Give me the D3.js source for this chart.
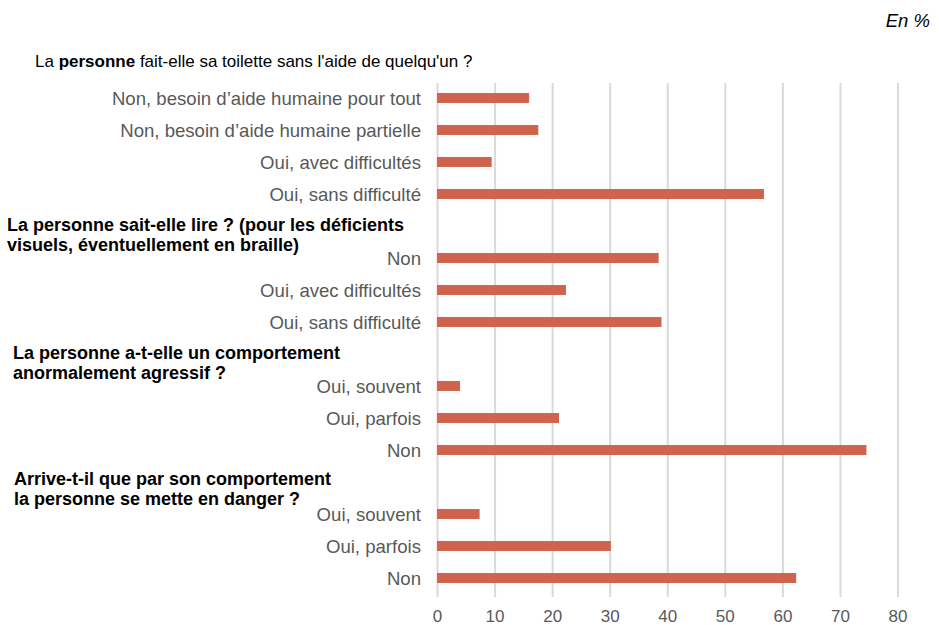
<!DOCTYPE html>
<html>
<head>
<meta charset="utf-8">
<script src="https://cdn.jsdelivr.net/npm/d3@7"></script>
<style>
  body { margin: 0; background: #fff; }
  svg { font-family: "Liberation Sans", Arial, sans-serif; }
</style>
</head>
<body>
<div id="chart"></div>
<script>
var canvasWidth = 939;
var canvasHeight = 625;

/*Data: one array of labels and one of values per question*/
var toiletteLabels = ["Non, besoin d\u2019aide humaine pour tout", "Non, besoin d\u2019aide humaine partielle", "Oui, avec difficultés", "Oui, sans difficulté"];
var toiletteValues = [16.0, 17.6, 9.5, 56.8];

var lireLabels = ["Non", "Oui, avec difficultés", "Oui, sans difficulté"];
var lireValues = [38.5, 22.4, 39.0];

var agressifLabels = ["Oui, souvent", "Oui, parfois", "Non"];
var agressifValues = [4.0, 21.2, 74.6];

var dangerLabels = ["Oui, souvent", "Oui, parfois", "Non"];
var dangerValues = [7.4, 30.2, 62.4];

var xTicks = [0, 10, 20, 30, 40, 50, 60, 70, 80];

/*Build rows: a blank slot separates each question*/
var groups = [
    {labels: toiletteLabels, values: toiletteValues},
    {labels: lireLabels, values: lireValues},
    {labels: agressifLabels, values: agressifValues},
    {labels: dangerLabels, values: dangerValues}
];
var rows = [];
groups.forEach(function (g, gi) {
    if (gi > 0) rows.push({key: "gap" + gi, label: "", value: null});
    g.labels.forEach(function (l, i) {
        rows.push({key: gi + "-" + i, label: l, value: g.values[i]});
    });
});

var svg = d3.select("#chart").append("svg")
    .attr("width", canvasWidth)
    .attr("height", canvasHeight);

var plotLeft = 437, plotRight = 897.5, plotTop = 82, plotBottom = 594;
var gridTop = 83, gridBottom = 597;

var xScale = d3.scaleLinear().domain([0, 80]).range([plotLeft, plotRight]);
var yScale = d3.scaleBand().domain(rows.map(function (d) { return d.key; }))
    .range([plotTop, plotBottom]).paddingInner(0.69).paddingOuter(0.345);

/*Vertical gridlines*/
svg.append("g")
    .attr("transform", "translate(0," + gridBottom + ")")
    .call(d3.axisBottom(xScale).tickValues(xTicks).tickSize(-(gridBottom - gridTop)).tickFormat(""))
    .call(function (g) { g.select(".domain").remove(); })
    .selectAll("line")
    .attr("stroke", "#d9d9d9")
    .attr("stroke-width", 2);

/*X axis labels*/
svg.append("g")
    .attr("transform", "translate(0," + 610 + ")")
    .call(d3.axisBottom(xScale).tickValues(xTicks).tickSize(0).tickPadding(0))
    .call(function (g) { g.select(".domain").remove(); })
    .selectAll("text")
    .attr("font-size", 17)
    .attr("font-family", "Liberation Sans, Arial, sans-serif")
    .attr("fill", "#595959");

/*Bars*/
svg.selectAll(".bar")
    .data(rows.filter(function (d) { return d.value !== null; }))
    .join("rect")
    .attr("class", "bar")
    .attr("x", xScale(0))
    .attr("y", function (d) { return yScale(d.key); })
    .attr("width", function (d) { return xScale(d.value) - xScale(0); })
    .attr("height", yScale.bandwidth())
    .attr("fill", "#d0634b");

/*Category labels*/
svg.selectAll(".cat")
    .data(rows.filter(function (d) { return d.label !== ""; }))
    .join("text")
    .attr("class", "cat")
    .attr("x", 421)
    .attr("y", function (d) { return yScale(d.key) + yScale.bandwidth() / 2; })
    .attr("dy", "0.35em")
    .attr("text-anchor", "end")
    .attr("font-size", 18.6)
    .attr("fill", "#595959")
    .text(function (d) { return d.label; });

/*Question headings*/
var h1 = svg.append("text")
    .attr("x", 35).attr("y", 67)
    .attr("font-size", 17)
    .attr("fill", "#000");
h1.append("tspan").text("La ");
h1.append("tspan").attr("font-weight", "bold").text("personne");
h1.append("tspan").text(" fait-elle sa toilette sans l'aide de quelqu'un ?");

var headings = [
    {x: 7, y: 231, lines: ["La personne sait-elle lire ? (pour les déficients", "visuels, éventuellement en braille)"]},
    {x: 13, y: 359, lines: ["La personne a-t-elle un comportement", "anormalement agressif ?"]},
    {x: 14, y: 485, lines: ["Arrive-t-il que par son comportement", "la personne se mette en danger ?"]}
];
headings.forEach(function (h) {
    var t = svg.append("text")
        .attr("x", h.x).attr("y", h.y)
        .attr("font-size", 18)
        .attr("font-weight", "bold")
        .attr("fill", "#000");
    h.lines.forEach(function (l, i) {
        t.append("tspan").attr("x", h.x).attr("dy", i === 0 ? 0 : 20).text(l);
    });
});

/*Unit*/
svg.append("text")
    .attr("x", 930).attr("y", 27)
    .attr("text-anchor", "end")
    .attr("font-size", 18.5)
    .attr("font-style", "italic")
    .attr("fill", "#000")
    .text("En %");
</script>
</body>
</html>
